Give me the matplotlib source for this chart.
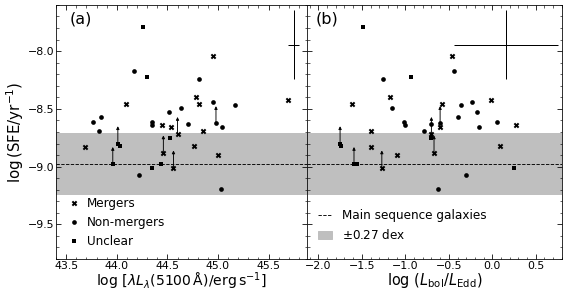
import numpy as np
import matplotlib
matplotlib.use("Agg")
import matplotlib.pyplot as plt
from matplotlib.patches import Patch
from matplotlib.lines import Line2D
from matplotlib.ticker import MultipleLocator

# ---- data ----
# Mergers
mer_L   = [44.95, 44.78, 44.09, 44.81, 45.69, 44.45, 44.54, 44.85, 44.60, 44.76, 43.69, 44.46, 44.56, 45.00]
mer_edd = [-0.458, -1.18, -1.61, -0.58, -0.017, 0.27, -0.60, -1.40, -0.70, 0.094, -1.39, -0.67, -1.27, -1.09]
mer_sfe = [-8.046, -8.40, -8.455, -8.455, -8.42, -8.64, -8.66, -8.69, -8.72, -8.82, -8.83, -8.88, -9.01, -8.90]
mer_lim = [False, False, False, False, False, False, False, False, True, False, False, True, True, False]

# Non-mergers
non_L   = [44.17, 44.81, 44.95, 45.17, 44.63, 44.52, 43.84, 43.76, 43.82, 44.35, 44.35, 44.70, 44.98, 45.04, 44.22, 45.03]
non_edd = [-0.446, -1.262, -0.228, -0.365, -1.15, -0.175, -0.397, 0.055, -0.787, -1.01, -1.00, -0.70, -0.60, -0.152, -0.30, -0.62]
non_sfe = [-8.17, -8.24, -8.44, -8.47, -8.49, -8.53, -8.57, -8.61, -8.69, -8.61, -8.64, -8.63, -8.626, -8.66, -9.07, -9.19]
non_lim = [False, False, False, False, False, False, False, False, False, False, False, False, True, False, False, False]

# Unclear
unc_L   = [44.255, 44.30, 44.53, 44.01, 44.03, 43.96, 44.35, 44.44]
unc_edd = [-1.485, -0.94, -0.70, -1.75, -1.74, -1.59, 0.247, -1.55]
unc_sfe = [-7.79, -8.22, -8.75, -8.80, -8.82, -8.98, -9.01, -8.98]
unc_lim = [False, False, False, True, False, True, False, False]

ms_level = -8.98
ms_scatter = 0.27
lim_len = 0.15

err_a = dict(x=45.75, y=-7.944, xerr=0.055, yerr=0.30)
err_b = dict(x=0.157, y=-7.944, xerr=0.60, yerr=0.30)

groups = [
    ("Mergers", "X", mer_L, mer_edd, mer_sfe, mer_lim),
    ("Non-mergers", "o", non_L, non_edd, non_sfe, non_lim),
    ("Unclear", "s", unc_L, unc_edd, unc_sfe, unc_lim),
]

fig = plt.figure(figsize=(567/72, 291/72), dpi=72)
gs = fig.add_gridspec(1, 2, width_ratios=[251, 255], wspace=0,
                      left=0.099, right=0.991, bottom=0.110, top=0.983)
axa = fig.add_subplot(gs[0])
axb = fig.add_subplot(gs[1], sharey=axa)

msizes = {"X": 32, "o": 22, "s": 20}

for ax, xi in ((axa, 2), (axb, 3)):
    ax.axhspan(ms_level - ms_scatter, ms_level + ms_scatter, color="0.75", lw=0, zorder=0)
    ax.axhline(ms_level, color="k", ls="--", lw=0.9, zorder=1)
    for name, mk, L, E, S, lim in groups:
        xs = L if xi == 2 else E
        ax.scatter(xs, S, marker=mk, s=msizes[mk], color="k", lw=0, zorder=3, label=name)
        for x, y, l in zip(xs, S, lim):
            if l:
                ax.annotate("", xy=(x, y + lim_len), xytext=(x, y),
                            arrowprops=dict(arrowstyle="-|>", lw=0.9, color="k",
                                            mutation_scale=6, shrinkA=0, shrinkB=0),
                            zorder=2)
    ax.tick_params(which="both", direction="in", top=True, right=True, labelsize=11, pad=2)
    ax.tick_params(which="major", length=5)
    ax.tick_params(which="minor", length=2.5)

e = err_a
axa.errorbar(e["x"], e["y"], xerr=e["xerr"], yerr=e["yerr"], fmt="none", ecolor="k", elinewidth=1)
e = err_b
axb.errorbar(e["x"], e["y"], xerr=e["xerr"], yerr=e["yerr"], fmt="none", ecolor="k", elinewidth=1)

axa.set_xlim(43.4, 45.88)
axb.set_xlim(-2.13, 0.8)
axa.set_ylim(-9.8, -7.6)
axa.set_xticks([43.5, 44.0, 44.5, 45.0, 45.5])
axb.set_xticks([-2.0, -1.5, -1.0, -0.5, 0.0, 0.5])
axa.set_yticks([-9.5, -9.0, -8.5, -8.0])
for ax in (axa, axb):
    ax.xaxis.set_minor_locator(MultipleLocator(0.1))
    ax.yaxis.set_minor_locator(MultipleLocator(0.1))
plt.setp(axb.get_yticklabels(), visible=False)

axa.set_ylabel(r"log$\,$(SFE/yr$^{-1}$)", fontsize=15, labelpad=2)
axa.set_xlabel(r"$\log\,[\lambda L_\lambda(5100\,\mathrm{\AA})/\mathrm{erg\,s^{-1}}]$", fontsize=14, labelpad=0)
axb.set_xlabel(r"$\log\,(L_\mathrm{bol}/L_\mathrm{Edd})$", fontsize=14.5, labelpad=0)

axa.text(0.055, 0.945, "(a)", transform=axa.transAxes, fontsize=16, va="center")
axb.text(0.035, 0.945, "(b)", transform=axb.transAxes, fontsize=16, va="center")

axa.legend(loc="lower left", frameon=False, fontsize=12, handlelength=1.0, handletextpad=0.6,
           labelspacing=0.5, borderaxespad=0.65, borderpad=0.3, markerscale=1.0)
hb = [Line2D([], [], color="k", ls="--", lw=0.9),
      Patch(facecolor="0.75", edgecolor="0.75")]
axb.legend(hb, ["Main sequence galaxies", r"$\pm$0.27 dex"], loc="lower left",
           bbox_to_anchor=(0.0, 0.024), frameon=False, fontsize=12, handlelength=1.2,
           handletextpad=0.8, labelspacing=0.5, borderaxespad=0.6, borderpad=0.3)

fig.savefig("out.png", dpi=72)
